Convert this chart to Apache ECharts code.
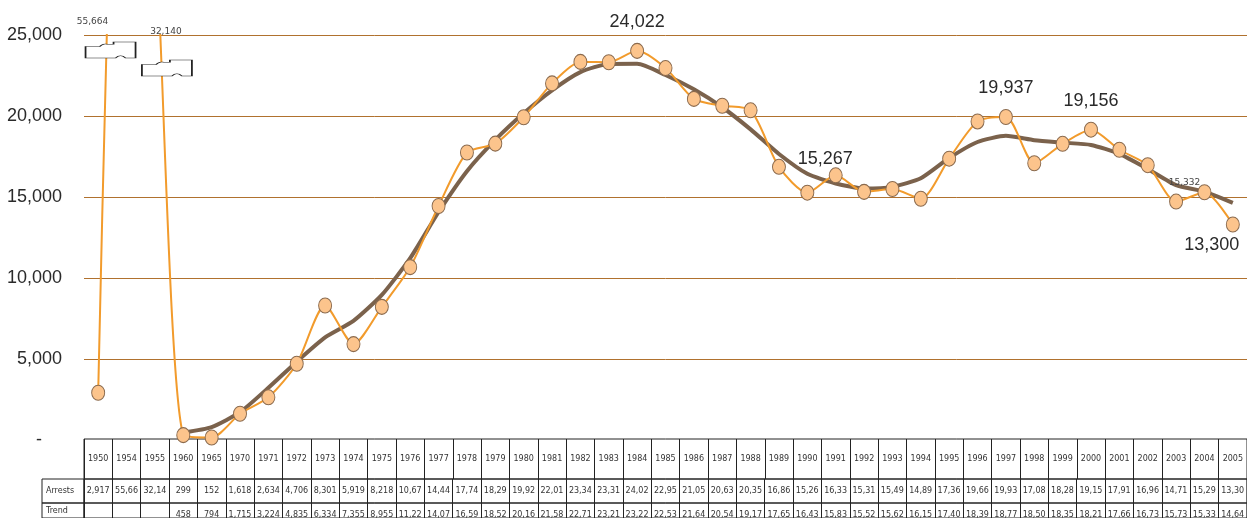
<!DOCTYPE html>
<html>
<head>
<meta charset="utf-8">
<script src="https://cdn.jsdelivr.net/npm/echarts@6/dist/echarts.min.js"></script>
<style>
  html, body { margin: 0; padding: 0; background: #fff; }
  #chart { width: 1247px; height: 518px; }
</style>
</head>
<body>
<div id="chart"></div>
<script>
// categories (years) and the two rows of the data table
const years = ['1950', '1954', '1955', '1960', '1965', '1970', '1971', '1972', '1973', '1974',
  '1975', '1976', '1977', '1978', '1979', '1980', '1981', '1982', '1983', '1984',
  '1985', '1986', '1987', '1988', '1989', '1990', '1991', '1992', '1993', '1994',
  '1995', '1996', '1997', '1998', '1999', '2000', '2001', '2002', '2003', '2004', '2005']

const arrests = [2917, 55664, 32140, 299, 152, 1618, 2634, 4706, 8301, 5919,
  8218, 10673, 14446, 17745, 18294, 19925, 22012, 23341, 23318, 24022,
  22958, 21055, 20634, 20351, 16862, 15267, 16339, 15318, 15496, 14894,
  17365, 19664, 19937, 17083, 18283, 19156, 17915, 16965, 14718, 15295, 13300]

const trend = [null, null, null, 458, 794, 1715, 3224, 4835, 6334, 7355,
  8955, 11224, 14075, 16595, 18525, 20165, 21585, 22710, 23210, 23220,
  22530, 21645, 20540, 19175, 17655, 16430, 15835, 15525, 15625, 16155,
  17405, 18395, 18775, 18505, 18355, 18215, 17665, 16735, 15735, 15332, 14640]

const yTicks = [0, 5000, 10000, 15000, 20000, 25000]
const rowNames = ['Arrests', 'Trend']

// years that get a value label on the chart, and the ones broken off the top
const labelYearsArrests = ['1984', '1990', '1997', '2000', '2005']
const labelYearsTrend = ['2004']
const brokenYears = ['1954', '1955']

const fmt = v => (v == null ? '' : v.toLocaleString('en-US'))

const chart = echarts.init(document.getElementById('chart'))

const bigLabel = { fontSize: 18, color: '#2a2a2a', fontFamily: 'Liberation Sans' }

// label placement per annotated year
const arrestLabelStyle = y => {
  if (y === '1990') return { position: 'top', distance: 17, offset: [18, 0] }
  if (y === '2005') return { position: 'bottom', distance: 3, offset: [-21, 0] }
  return { position: 'top', distance: 12 }
}

const arrestData = arrests.map((v, i) => {
  const y = years[i]
  if (!labelYearsArrests.includes(y)) return v
  return { value: v, label: Object.assign({ show: true, formatter: fmt(v) }, bigLabel, arrestLabelStyle(y)) }
})

// trend line has no visible markers; the labelled point keeps a tiny invisible one so its label draws
const trendData = trend.map((v, i) => {
  if (!labelYearsTrend.includes(years[i])) return v
  return {
    value: v,
    symbol: 'circle',
    symbolSize: 1,
    itemStyle: { color: 'rgba(0,0,0,0)' },
    label: { show: true, formatter: fmt(v), position: 'top', distance: 4, offset: [-20, 0],
      fontSize: 9, color: '#444', fontFamily: 'DejaVu Sans' }
  }
})

// break marks for the values above the axis max
const breakPath = 'path://M0 4 L14 4 Q18 1 22 2 L28 2 L28 0 L50 0 L50 14 L40 14 Q35 10 30 14 L0 14 Z'
const breakOffsets = [[-16, 15], [12, 33]]
const breakLabelOffsets = [[-18, -28], [-1, -36]]
const breakMarks = brokenYears.map((y, k) => {
  const i = years.indexOf(y)
  return {
    coord: [y, yTicks[yTicks.length - 1]],
    value: arrests[i],
    symbolOffset: breakOffsets[k],
    label: { show: true, position: 'inside', offset: breakLabelOffsets[k], formatter: fmt(arrests[i]),
      fontSize: 9, color: '#444', fontFamily: 'DejaVu Sans' }
  }
})

// table layout
const gridLeft = 84
const gridRight = -10
const rows = [
  { top: 439, height: 40, data: years },
  { top: 479, height: 24, data: arrests.map(fmt) },
  { top: 503, height: 24, data: trend.map(fmt) }
]
const cellText = { fontSize: 8, color: '#333', fontFamily: 'DejaVu Sans' }

const grids = [{ left: gridLeft, right: gridRight, top: 35, bottom: 78 }]
const xAxes = [{
  type: 'category', data: years, gridIndex: 0, boundaryGap: true,
  axisLine: { show: false }, axisTick: { show: false }, axisLabel: { show: false }
}]
const yAxes = [{
  type: 'value', gridIndex: 0, min: 0, max: 25000, interval: 5000,
  axisLine: { show: false }, axisTick: { show: false },
  splitLine: { showMinLine: false, lineStyle: { color: '#b0712e', width: 1 } },
  axisLabel: {
    margin: 22, fontSize: 18, color: '#2a2a2a', fontFamily: 'Liberation Sans',
    formatter: v => (v === 0 ? '-    ' : fmt(v))
  }
}]

rows.forEach((r, k) => {
  grids.push({ left: gridLeft, right: gridRight, top: r.top, height: r.height, show: true,
    borderColor: '#222', borderWidth: 1, backgroundColor: 'transparent' })
  xAxes.push({
    type: 'category', data: r.data, gridIndex: k + 1, position: 'top', boundaryGap: true,
    axisLine: { show: false }, axisTick: { show: false },
    splitLine: { show: true, interval: 0, lineStyle: { color: '#222', width: 1 } },
    axisLabel: Object.assign({ interval: 0, inside: true, margin: r.height / 2, verticalAlign: 'middle',
      width: 27, overflow: 'truncate', ellipsis: '' }, cellText)
  })
  yAxes.push({ type: 'value', gridIndex: k + 1, show: false })
})

// row name cells
rowNames.forEach((name, k) => {
  const r = rows[k + 1]
  const gi = grids.length
  grids.push({ left: 42, width: 42, top: r.top, height: r.height, show: true,
    borderColor: '#222', borderWidth: 1, backgroundColor: 'transparent' })
  xAxes.push({ type: 'value', gridIndex: gi, show: false })
  yAxes.push({
    type: 'category', data: [name], gridIndex: gi, position: 'left',
    axisLine: { show: false }, axisTick: { show: false }, splitLine: { show: false },
    axisLabel: Object.assign({ inside: true, margin: 4, align: 'left' }, cellText)
  })
})

chart.setOption({
  animation: false,
  backgroundColor: '#fff',
  grid: grids,
  xAxis: xAxes,
  yAxis: yAxes,
  series: [
    {
      name: 'Trend',
      type: 'line',
      xAxisIndex: 0, yAxisIndex: 0,
      data: trendData,
      smooth: 0.2,
      symbol: 'none',
      z: 2,
      lineStyle: { color: '#7b624c', width: 4 }
    },
    {
      name: 'Arrests',
      type: 'line',
      xAxisIndex: 0, yAxisIndex: 0,
      data: arrestData,
      smooth: 0.25,
      clip: true,
      symbol: 'circle',
      symbolSize: [13, 15],
      showAllSymbol: true,
      z: 3,
      lineStyle: { color: '#f29b2c', width: 2 },
      itemStyle: { color: '#fcc48c', borderColor: '#8a6a4e', borderWidth: 1 },
      markPoint: {
        symbol: breakPath,
        symbolSize: [50, 16],
        itemStyle: { color: '#fff', borderColor: '#222', borderWidth: 1 },
        data: breakMarks
      }
    }
  ]
})
</script>
</body>
</html>
